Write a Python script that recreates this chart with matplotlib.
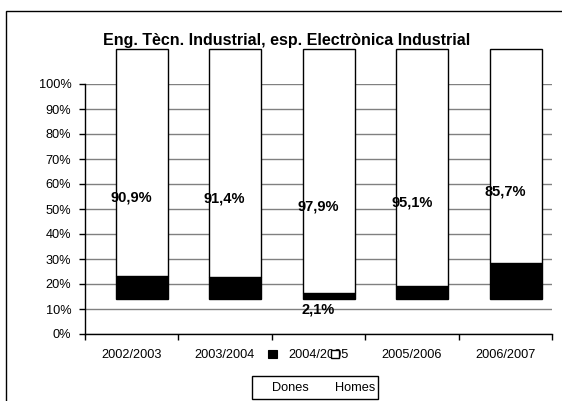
import matplotlib
matplotlib.use("Agg")
import matplotlib.pyplot as plt
from matplotlib.patches import Rectangle
import numpy as np

plt.rcParams['font.family'] = ['Liberation Sans', 'DejaVu Sans']

categories = ["2002/2003", "2003/2004", "2004/2005", "2005/2006", "2006/2007"]
dones = [9.1, 8.6, 2.1, 4.9, 14.3]
homes = [90.9, 91.4, 97.9, 95.1, 85.7]
yticks = [0, 10, 20, 30, 40, 50, 60, 70, 80, 90, 100]
title = "Eng. Tècn. Industrial, esp. Electrònica Industrial"

W, H = 562, 401
fig = plt.figure(figsize=(W / 100, H / 100), dpi=100)
fig.patch.set_facecolor("white")

def fx(px):
    return px / W

def fy(py):
    return 1 - py / H

# outer chart border (extends beyond image on right/bottom)
fig.patches.append(Rectangle((fx(6), fy(420)), fx(600) - fx(6), fy(11) - fy(420),
                             transform=fig.transFigure, fill=False,
                             edgecolor="#000000", linewidth=1.0))

ax = fig.add_axes([fx(84.5), fy(334), fx(552) - fx(84.5), fy(84) - fy(334)])
ax.set_xlim(-0.5, 4.5)
ax.set_ylim(0, 100)

x = np.arange(len(categories))
shift_x = 0.11
base = 14.2
bw = 0.556

ax.bar(x + shift_x, dones, bw, bottom=base, color="black", edgecolor="black",
       linewidth=1.0, clip_on=False, zorder=3)
ax.bar(x + shift_x, homes, bw, bottom=base + np.array(dones), color="white",
       edgecolor="black", linewidth=1.0, clip_on=False, zorder=3)

for i in range(len(categories)):
    yc = dones[i] + homes[i] / 2
    ax.text(x[i], yc, f"{homes[i]:.1f}%".replace(".", ","), ha="center",
            va="center", fontsize=10.5, fontweight="bold", zorder=5)
    if dones[i] < 3:
        ax.text(x[i], base - 4.6, f"{dones[i]:.1f}%".replace(".", ","),
                ha="center", va="center", fontsize=10.5, fontweight="bold",
                zorder=5)

ax.set_yticks(yticks)
ax.set_yticklabels([f"{v}%" for v in yticks], fontsize=9.2)
ax.yaxis.grid(True, color="#808080", linewidth=1.0, zorder=0)
ax.set_axisbelow(True)
ax.tick_params(axis="y", length=4, width=1, color="black", pad=5.5)

ax.set_xticks(x)
ax.set_xticklabels(categories, fontsize=9.2)
ax.set_xticks(np.arange(-0.5, 5, 1), minor=True)
ax.tick_params(axis="x", which="major", length=0, pad=11)
ax.tick_params(axis="x", which="minor", length=4, width=1, color="black")

for s in ["top", "right"]:
    ax.spines[s].set_visible(False)
ax.spines["left"].set_color("black")
ax.spines["bottom"].set_color("black")
ax.spines["left"].set_linewidth(1.0)
ax.spines["bottom"].set_linewidth(1.0)
ax.patch.set_alpha(0)

fig.text(fx(287), fy(40), title, ha="center", va="center", fontsize=11.5,
         fontweight="bold")

# legend box (displaced markers as in the reference)
fig.patches.append(Rectangle((fx(251.5), fy(399)), fx(378) - fx(251.5), fy(376) - fy(399),
                             transform=fig.transFigure, fill=False,
                             edgecolor="black", linewidth=1.0))
fig.text(fx(290), fy(388), "Dones", ha="center", va="center", fontsize=9.2)
fig.text(fx(355), fy(388), "Homes", ha="center", va="center", fontsize=9.2)
fig.patches.append(Rectangle((fx(267.5), fy(357.5)), fx(9), fy(0) - fy(8),
                             transform=fig.transFigure, facecolor="black",
                             edgecolor="black", linewidth=0.8, zorder=10))
fig.patches.append(Rectangle((fx(331), fy(357.5)), fx(8), fy(0) - fy(8),
                             transform=fig.transFigure, facecolor="white",
                             edgecolor="black", linewidth=1.0, zorder=10))

fig.savefig("out.png", dpi=100)
